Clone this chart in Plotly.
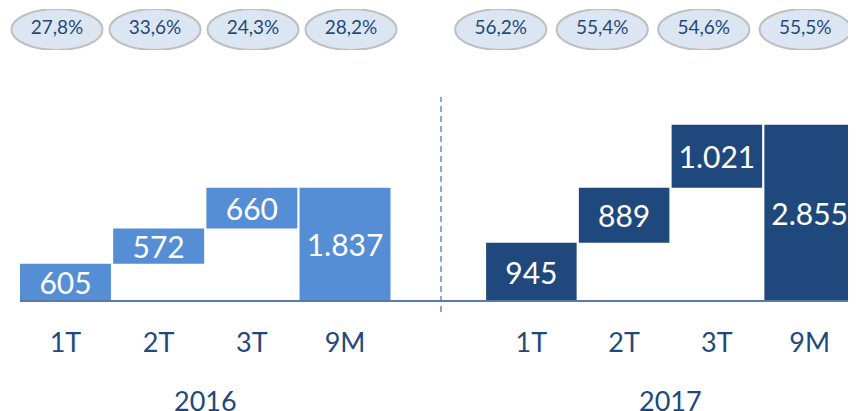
import plotly.graph_objects as go

# ---- data ----
categories = ["1T", "2T", "3T", "9M"]
measures = ["relative", "relative", "relative", "total"]
values_2016 = [605, 572, 660, 1837]
values_2017 = [945, 889, 1021, 2855]
pct_2016 = [27.8, 33.6, 24.3, 28.2]
pct_2017 = [56.2, 55.4, 54.6, 55.5]
years = ["2016", "2017"]

FONT = "Lato"
TXT = "#1F497D"
LIGHT = "#558ED5"
DARK = "#1F497D"

W, H = 848, 403          # page body has an 8px margin
PLOT_H = 293             # height of plot area (baseline position)


def num_txt(v):
    return f"{v:,}".replace(",", ".")


def pct_txt(v):
    return f"{v:.1f}".replace(".", ",") + "%"


fig = go.Figure()

for vals, col, xa in [(values_2016, LIGHT, "x"), (values_2017, DARK, "x2")]:
    fig.add_trace(go.Waterfall(
        x=categories, y=vals, measure=measures,
        xaxis=xa, yaxis="y",
        increasing=dict(marker=dict(color=col, line=dict(width=0))),
        totals=dict(marker=dict(color=col, line=dict(width=0))),
        decreasing=dict(marker=dict(color=col, line=dict(width=0))),
        connector=dict(visible=False),
        text=[num_txt(v) for v in vals],
        textposition="inside", insidetextanchor="middle",
        textangle=0, constraintext="none",
        textfont=dict(family=FONT, size=30, color="white"),
        hoverinfo="skip",
    ))

for pcts, xa in [(pct_2016, "x3"), (pct_2017, "x4")]:
    fig.add_trace(go.Scatter(
        x=categories, y=[0.5] * len(categories), mode="text",
        text=[pct_txt(p) for p in pcts],
        textfont=dict(family=FONT, size=19, color=TXT),
        xaxis=xa, yaxis="y3", hoverinfo="skip",
    ))

shapes = []
for xa, hw in [("x3", 0.465), ("x4", 0.45)]:
    for i in range(len(categories)):
        shapes.append(dict(
            type="circle", xref=xa, yref="y3",
            x0=i - hw, x1=i + hw, y0=0.0, y1=1.0,
            fillcolor="#DCE6F2", line=dict(color="#BFBFBF", width=2),
            layer="below",
        ))

# dashed separator
shapes.append(dict(type="line", xref="paper", yref="paper",
                   x0=433 / W, x1=433 / W, y0=-0.0375, y1=0.696,
                   line=dict(color="#5B8FD0", width=1.5, dash="6px,4px")))
# baseline
shapes.append(dict(type="line", xref="paper", yref="paper",
                   x0=12 / W, x1=1.0, y0=0, y1=0,
                   line=dict(color="#5A7AA8", width=2)))

annotations = []
for yr, xa in zip(years, ["x", "x2"]):
    annotations.append(dict(
        text=yr, xref=f"{xa} domain", x=0.5, yref="paper", y=-99.5 / PLOT_H,
        xanchor="center", yanchor="middle", showarrow=False,
        font=dict(family=FONT, size=27, color=TXT),
    ))

xcommon = dict(
    type="category", showgrid=False, zeroline=False, showline=False,
    ticks="outside", ticklen=18, tickcolor="rgba(0,0,0,0)",
    tickfont=dict(family=FONT, size=27, color=TXT),
    automargin=False, fixedrange=True, range=[-0.5, 3.5],
)

fig.update_layout(
    width=W, height=H,
    margin=dict(l=0, r=0, t=0, b=H - PLOT_H),
    paper_bgcolor="white", plot_bgcolor="white",
    showlegend=False,
    waterfallgap=0.024,
    shapes=shapes,
    annotations=annotations,
    xaxis=dict(domain=[10.9 / W, 383.6 / W], anchor="y", **xcommon),
    xaxis2=dict(domain=[477 / W, 1.0], anchor="y", **xcommon),
    yaxis=dict(domain=[0, 0.8], range=[0, 3799], visible=False, fixedrange=True),
    xaxis3=dict(domain=[0, 392 / W], anchor="y3", range=[-0.5, 3.5], visible=False,
                type="category"),
    xaxis4=dict(domain=[442 / W, 1.0], anchor="y3", range=[-0.5, 3.5], visible=False,
                type="category"),
    yaxis3=dict(domain=[251 / PLOT_H, 292 / PLOT_H], range=[0, 1], visible=False),
)

fig.write_html("out.html")
